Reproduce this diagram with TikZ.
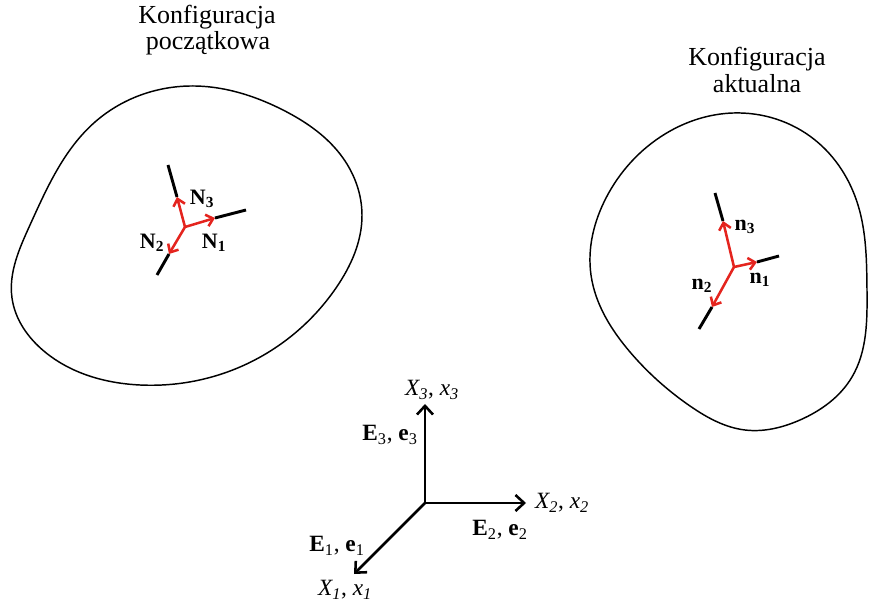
\documentclass[tikz,border=0pt]{standalone}
\usepackage{fontspec}
\setmainfont{Liberation Serif}
\usetikzlibrary{arrows.meta,hobby}
\definecolor{vred}{RGB}{228,36,30}
\newcommand\lsub[1]{\textsubscript{#1}}
\begin{document}
\begin{tikzpicture}[x=0.75pt,y=-0.75pt,
  blob/.style={line width=1.1pt, line join=round},
  vec/.style={vred, line width=1.9pt, -{Straight Barb[length=5pt,width=9pt,line width=1.9pt]}},
  stub/.style={line width=2.2pt},
  axis/.style={line width=1.9pt, -{Straight Barb[length=6.5pt,width=12pt,line width=1.9pt]}},
  lab/.style={font=\fontsize{16.5}{18}\selectfont\bfseries, inner sep=0pt},
  alab/.style={font=\fontsize{17.5}{19}\selectfont, inner sep=0pt},
  ttl/.style={font=\fontsize{19.5}{21}\selectfont, inner sep=0pt}]
\useasboundingbox (0,0) rectangle (869,606);

% titles
\node[ttl] (t1a) at (207,17) {Konfiguracja};
\node[ttl] (t1b) at (208,43) {początkowa};
\node[ttl] (t2a) at (757,59) {Konfiguracja};
\node[ttl] (t2b) at (757,84) {aktualna};

% left body
\draw[blob, use Hobby shortcut, closed=true]
 (190,86) .. (283,110) .. (343,158) .. (362,215) .. (336,288) .. (240,367)
 .. (140,385) .. (45,352) .. (12,298) .. (30,225) .. (95,122);

% right body
\draw[blob, use Hobby shortcut, closed=true]
 (733,113) .. (815,140) .. (858,205) .. (867,290) .. (852,377) .. (800,420)
 .. (745,430) .. (690,406) .. (630,352) .. (591,275) .. (606,198) .. (665,134);

% left triad
\coordinate (L0) at (185,227);
\coordinate (L1) at (215,218); \coordinate (L1e) at (246,210);
\coordinate (L2) at (169,254); \coordinate (L2e) at (157,275);
\coordinate (L3) at (177,197); \coordinate (L3e) at (168,165);
\draw[stub] (L1) -- (L1e);
\draw[stub] (L2) -- (L2e);
\draw[stub] (L3) -- (L3e);
\draw[vec] (L0) -- (L1);
\draw[vec] (L0) -- (L2);
\draw[vec] (L0) -- (L3);
\node[lab] (N1) at (214,243) {N\lsub{1}};
\node[lab] (N2) at (152,243) {N\lsub{2}};
\node[lab] (N3) at (202,199) {N\lsub{3}};

% right triad
\coordinate (R0) at (734,267);
\coordinate (R1) at (757,262); \coordinate (R1e) at (779,256);
\coordinate (R2) at (712,307); \coordinate (R2e) at (699,329);
\coordinate (R3) at (723,221); \coordinate (R3e) at (715,193);
\draw[stub] (R1) -- (R1e);
\draw[stub] (R2) -- (R2e);
\draw[stub] (R3) -- (R3e);
\draw[vec] (R0) -- (R1);
\draw[vec] (R0) -- (R2);
\draw[vec] (R0) -- (R3);
\node[lab] (n1) at (760,280) {n\lsub{1}};
\node[lab] (n2) at (702,286) {n\lsub{2}};
\node[lab] (n3) at (745,227) {n\lsub{3}};

% axes
\coordinate (O) at (425,503);
\coordinate (A3) at (425,404);
\coordinate (A2) at (526,503);
\coordinate (A1) at (354,574);
\draw[axis] (O) -- (A3);
\draw[axis] (O) -- (A2);
\draw[axis] (O) -- (A1);
\node[alab] (x3) at (432,390) {\textit{X\lsub{3}}, \textit{x\lsub{3}}};
\node[alab] (x2) at (562,503) {\textit{X\lsub{2}}, \textit{x\lsub{2}}};
\node[alab] (x1) at (345,590) {\textit{X\lsub{1}}, \textit{x\lsub{1}}};
\node[alab] (e3) at (390,435) {\textbf{E}\lsub{3}, \textbf{e}\lsub{3}};
\node[alab] (e2) at (500,530) {\textbf{E}\lsub{2}, \textbf{e}\lsub{2}};
\node[alab] (e1) at (337,546) {\textbf{E}\lsub{1}, \textbf{e}\lsub{1}};
\end{tikzpicture}
\end{document}
